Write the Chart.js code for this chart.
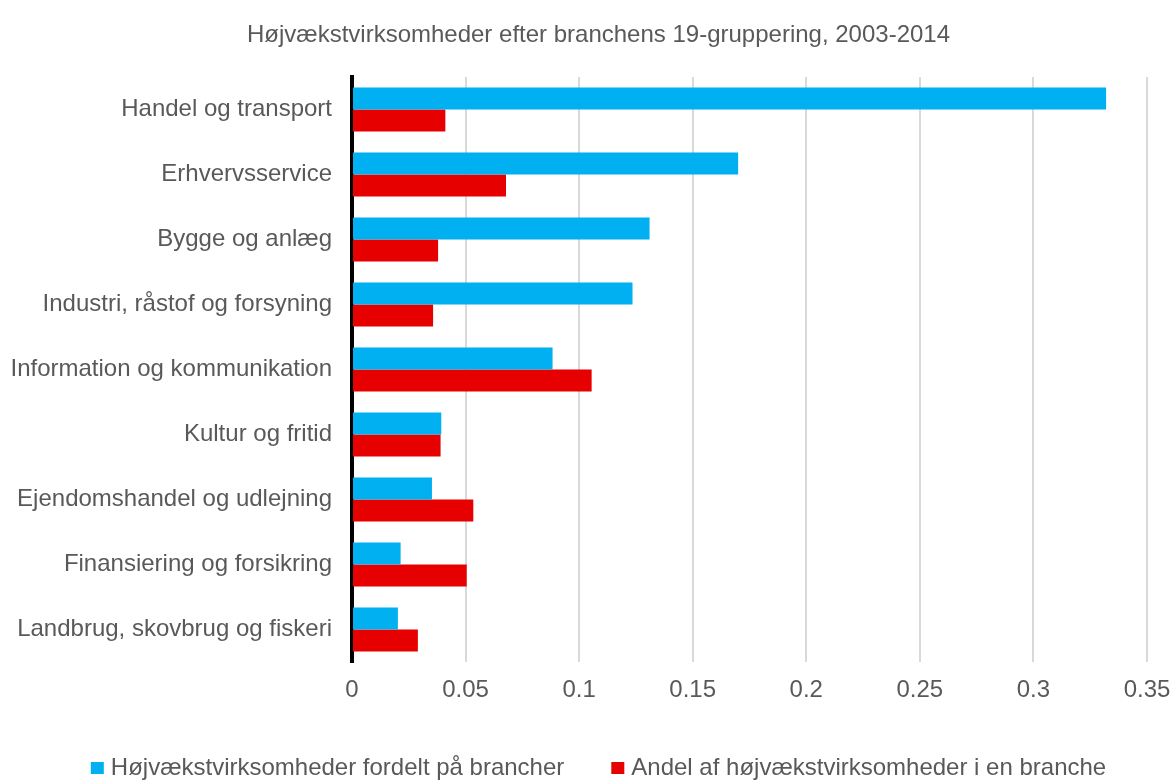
<!DOCTYPE html>
<html>

<head>
    <title>Højvækstvirksomheder efter branchens 19-gruppering</title>
    <script src="https://cdn.jsdelivr.net/npm/chart.js"></script>
    <style>
        body {
            background-color: #ffffff;
            margin: 0;
            padding: 0;
        }

        .chart-box {
            width: 1173px;
            height: 780px;
        }
    </style>
</head>

<body>
    <div class="chart-box">
        <canvas id="myChart" width="1173" height="780"></canvas>
    </div>

    <script>
        // Data
        const chartTitle = 'Højvækstvirksomheder efter branchens 19-gruppering, 2003-2014';
        const categories = [
            'Handel og transport',
            'Erhvervsservice',
            'Bygge og anlæg',
            'Industri, råstof og forsyning',
            'Information og kommunikation',
            'Kultur og fritid',
            'Ejendomshandel og udlejning',
            'Finansiering og forsikring',
            'Landbrug, skovbrug og fiskeri'
        ];
        const seriesNames = [
            'Højvækstvirksomheder fordelt på brancher',
            'Andel af højvækstvirksomheder i en branche'
        ];
        const fordeltValues = [0.332, 0.170, 0.131, 0.1235, 0.0883, 0.0393, 0.0352, 0.0214, 0.0202];
        const andelValues = [0.0411, 0.0678, 0.0379, 0.0357, 0.1055, 0.0390, 0.0534, 0.0505, 0.0290];
        const xTickLabels = ['0', '0.05', '0.1', '0.15', '0.2', '0.25', '0.3', '0.35'];

        const fontFamily = '"Liberation Sans", Arial, sans-serif';
        const textColor = '#595959';

        // Title and legend drawn by hand so they sit where the original has them
        const titleAndLegend = {
            id: 'titleAndLegend',
            afterDraw(chart) {
                const c = chart.ctx;
                const mid = chart.width / 2 + 12;
                c.save();
                c.fillStyle = textColor;
                c.textBaseline = 'middle';
                c.textAlign = 'center';
                c.font = '24px ' + fontFamily;
                c.fillText(chartTitle, mid, 35);

                c.font = '24px ' + fontFamily;
                c.textAlign = 'left';
                const box = 13, gapText = 7, gapItem = 47;
                const items = chart.data.datasets.map(function(ds) {
                    return { text: ds.label, color: ds.backgroundColor, w: c.measureText(ds.label).width };
                });
                let total = 0;
                items.forEach(function(it, i) {
                    total += box + gapText + it.w + (i > 0 ? gapItem : 0);
                });
                let x = mid - total / 2;
                const y = 768;
                items.forEach(function(it) {
                    c.fillStyle = it.color;
                    c.fillRect(x, y - 6, box, 12);
                    c.fillStyle = textColor;
                    c.fillText(it.text, x + box + gapText, y);
                    x += box + gapText + it.w + gapItem;
                });
                c.restore();
            }
        };

        const ctx = document.getElementById('myChart').getContext('2d');

        const myChart = new Chart(ctx, {
            type: 'bar',
            data: {
                labels: categories,
                datasets: [{
                    label: seriesNames[0],
                    data: fordeltValues,
                    backgroundColor: '#00B0F0',
                    borderWidth: 0
                }, {
                    label: seriesNames[1],
                    data: andelValues,
                    backgroundColor: '#E60000',
                    borderWidth: 0
                }]
            },
            options: {
                indexAxis: 'y',
                responsive: false,
                animation: false,
                categoryPercentage: 0.677,
                barPercentage: 1,
                layout: {
                    padding: { top: 77, bottom: 68, left: 10, right: 26 }
                },
                plugins: {
                    legend: { display: false },
                    title: { display: false },
                    tooltip: { enabled: false }
                },
                scales: {
                    x: {
                        min: 0,
                        max: 0.35,
                        ticks: {
                            stepSize: 0.05,
                            padding: 14,
                            color: textColor,
                            font: { family: fontFamily, size: 24 },
                            callback: function(value, index) {
                                return xTickLabels[index];
                            }
                        },
                        grid: {
                            color: '#D9D9D9',
                            lineWidth: 2,
                            drawTicks: false
                        },
                        border: { display: false },
                        afterFit: function(scale) {
                            scale.height = 50;
                            // let the last tick label hang into the right margin
                            scale.paddingLeft = 0;
                            scale.paddingRight = 0;
                        }
                    },
                    y: {
                        z: 1,
                        ticks: {
                            padding: 20,
                            color: textColor,
                            font: { family: fontFamily, size: 24 }
                        },
                        grid: { display: false, drawTicks: false },
                        border: { display: true, color: '#000000', width: 4 },
                        afterFit: function(scale) {
                            scale.width = 342;
                        }
                    }
                }
            },
            plugins: [titleAndLegend]
        });
    </script>
</body>

</html>
